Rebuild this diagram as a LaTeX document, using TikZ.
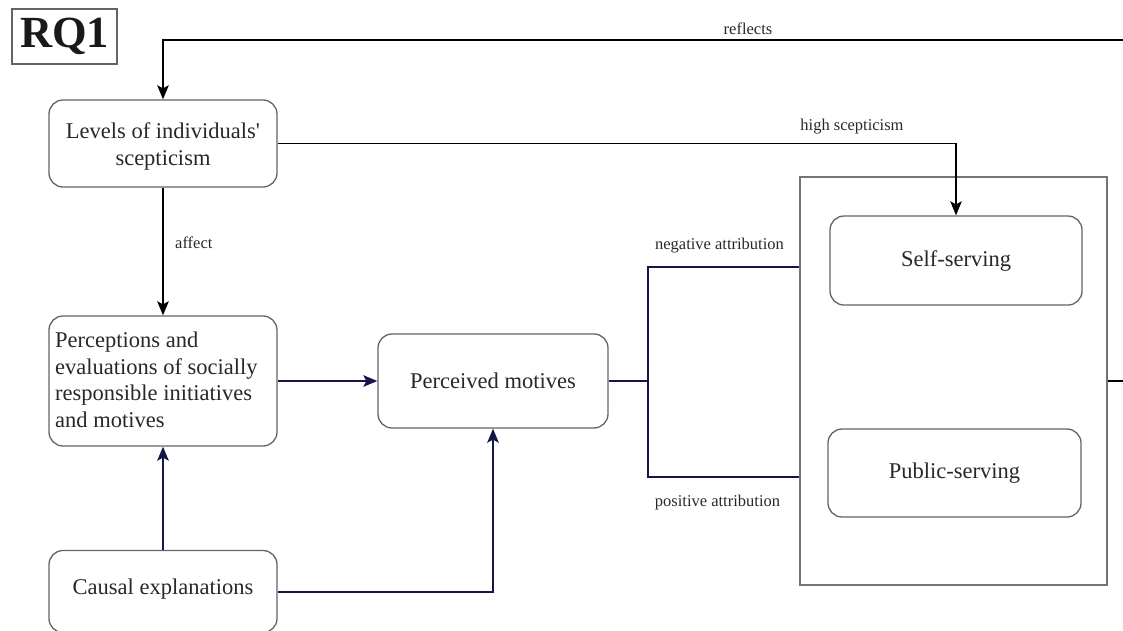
\documentclass[tikz,border=0pt]{standalone}
\usepackage{fontspec}
\setmainfont{Liberation Serif}
% same face without the TeX quote mapping, for a straight apostrophe
\newfontfamily\plainserif{Liberation Serif}
\usetikzlibrary{arrows.meta}
\definecolor{navyline}{RGB}{22,22,72}
\definecolor{boxline}{RGB}{100,100,100}
\definecolor{txt}{RGB}{40,40,40}
\tikzset{
  stepbox/.style={draw=boxline, line width=1.3pt, rounded corners=14pt, fill=white,
    inner sep=0pt, text=txt, font=\fontsize{22.5}{27}\selectfont, align=center},
  groupbox/.style={draw=boxline!90, line width=1.4pt, inner sep=0pt},
  blackarrow/.style={draw=black, line width=1.9pt,
    -{Stealth[length=14pt,width=11.5pt,inset=3pt]}},
  navyarrow/.style={draw=navyline, line width=2pt,
    -{Stealth[length=14pt,width=11.5pt,inset=3pt]}},
  navyline/.style={draw=navyline, line width=2pt},
  blackline/.style={draw=black, line width=1.9pt},
  edgelabel/.style={text=txt, font=\fontsize{16.5}{19}\selectfont, inner sep=0pt},
}
\begin{document}
\begin{tikzpicture}[x=1pt, y=-1pt]
  \useasboundingbox (0,0) rectangle (1123,630);
  \clip (0,0) rectangle (1123,630);

  % title
  \node[draw=boxline, line width=1.3pt, minimum width=105pt, minimum height=55pt,
        inner sep=0pt, font=\bfseries\fontsize{44.5}{44.5}\selectfont, text=black!90]
        (title) at (64.5,36.5) {RQ1};

  % left column
  \node[stepbox, minimum width=228pt, minimum height=87pt] (lev) at (163,143.5) {};
  \node[text=txt, font=\fontsize{22.5}{27}\selectfont, align=center, inner sep=0pt]
        (levtext) at (163,146) {Levels of individuals{\plainserif'}\\scepticism};
  \node[stepbox, minimum width=228pt, minimum height=130pt] (per) at (163,381) {};
  \node[text=txt, font=\fontsize{22.5}{26.5}\selectfont, align=left, anchor=west,
        inner sep=0pt] (pertext) at (55,380)
        {Perceptions and\\evaluations of socially\\responsible initiatives\\and motives};
  \node[stepbox, minimum width=228pt, minimum height=82pt] (cau) at (163,591.5) {};
  \node[text=txt, font=\fontsize{22.5}{27}\selectfont, inner sep=0pt] (cautext)
        at (163,589) {Causal explanations};

  % middle
  \node[stepbox, minimum width=230pt, minimum height=94pt] (pm) at (493,381)
        {Perceived motives};

  % attribution group
  \node[groupbox, minimum width=307pt, minimum height=408pt] (group) at (953.5,381) {};
  \node[stepbox, minimum width=252pt, minimum height=89pt] (self) at (956,260.5)
        {Self-serving};
  \node[stepbox, minimum width=253pt, minimum height=88pt] (pub) at (954.5,473)
        {Public-serving};

  % free ends and junctions
  \coordinate (rin) at (1123,40);
  \coordinate (rout) at (1123,381);
  \coordinate (j) at (648,381);
  \coordinate (neg) at (group.west |- 0,267);
  \coordinate (pos) at (group.west |- 0,477);

  % black connectors
  \draw[blackarrow] (rin) -| (lev.north);
  \draw[blackarrow] (lev.east) -| (self.north);
  \draw[blackarrow] (lev.south) -- (per.north);
  \draw[blackline] (group.east) -- (rout);

  % navy connectors
  \draw[navyarrow] (per.east) -- (pm.west);
  \draw[navyarrow] (cau.north) -- (per.south);
  \draw[navyarrow] (cau.east) -| (pm.south);
  \draw[navyline] (pm.east) -- (j);
  \draw[navyline] (neg) -| (j) |- (pos);

  % labels
  \node[edgelabel] (lreflects) at (748,29) {reflects};
  \node[edgelabel] (lhigh) at (852,127) {high scepticism};
  \node[edgelabel, anchor=west] (laffect) at (175,243) {affect};
  \node[edgelabel] (lneg) at (719.5,246) {negative attribution};
  \node[edgelabel] (lpos) at (717.5,503) {positive attribution};
\end{tikzpicture}
\end{document}
